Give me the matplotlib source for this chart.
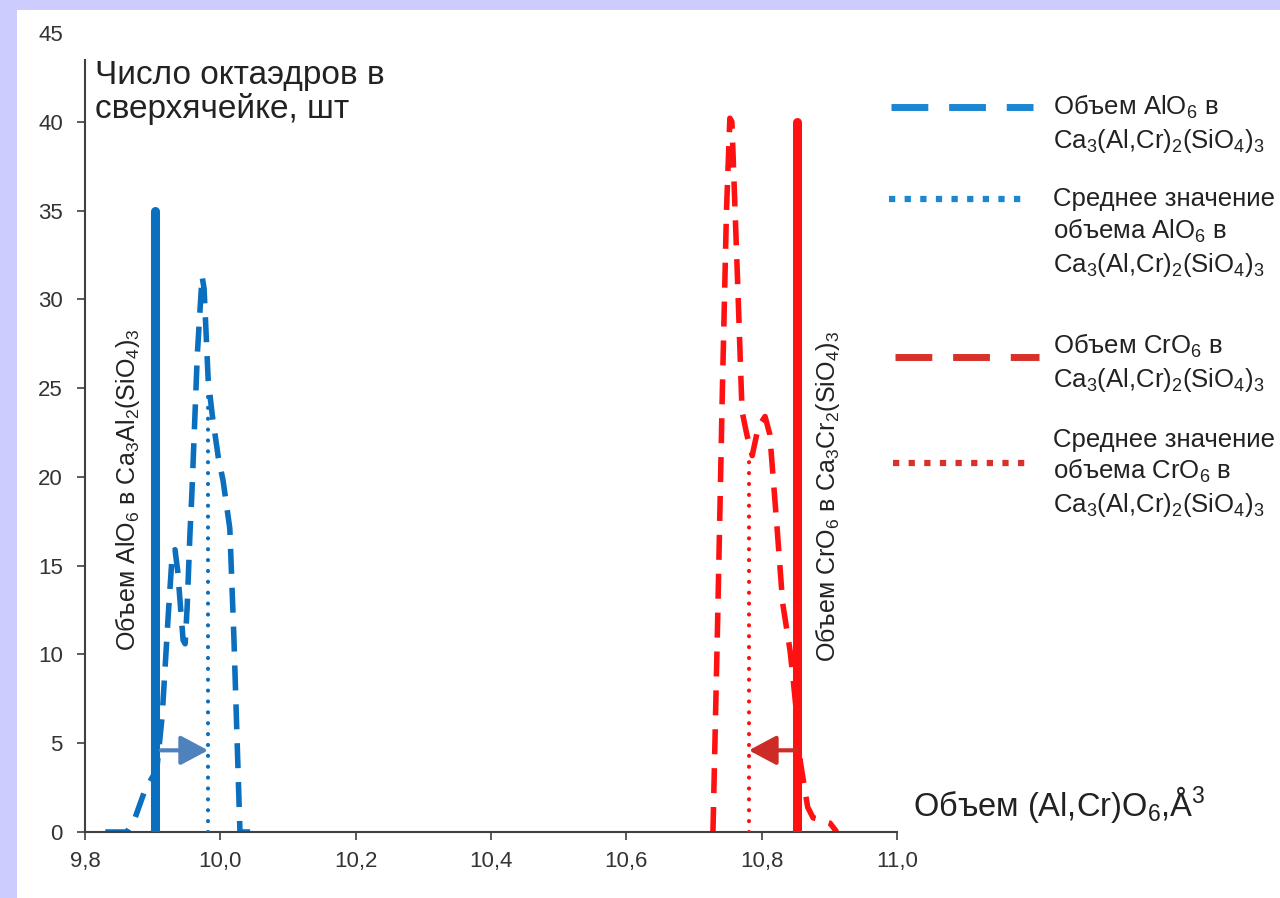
import matplotlib
matplotlib.use("Agg")
import matplotlib.pyplot as plt
from matplotlib.lines import Line2D
from matplotlib.patches import Rectangle

plt.rcParams['font.family'] = ['Liberation Sans', 'DejaVu Sans']
plt.rcParams['mathtext.fontset'] = 'custom'
plt.rcParams['mathtext.rm'] = 'Liberation Sans'
plt.rcParams['mathtext.it'] = 'Liberation Sans:italic'
plt.rcParams['mathtext.default'] = 'rm'

# AlO6 octahedra volume distribution (dashed blue)
al_x = [9.830, 9.862, 9.874, 9.889, 9.906, 9.914, 9.923, 9.929, 9.933, 9.937,
        9.945, 9.948, 9.951, 9.955, 9.958, 9.966, 9.973, 9.976, 9.982, 9.988,
        9.997, 10.004, 10.014, 10.020, 10.025, 10.029, 10.044]
al_y = [0, 0, 0.8, 2.4, 3.5, 6.5, 12.2, 15.7, 15.9, 14.7,
        10.8, 10.6, 12.7, 16.7, 19.1, 26.9, 31.3, 30.6, 25.5, 23.5,
        21.1, 19.8, 17.1, 11.0, 4.9, 0, 0]

# CrO6 octahedra volume distribution (dashed red)
cr_x = [10.728, 10.735, 10.742, 10.748, 10.753, 10.756, 10.765, 10.771, 10.778,
        10.786, 10.795, 10.805, 10.812, 10.823, 10.831, 10.842, 10.846, 10.852,
        10.857, 10.862, 10.868, 10.876, 10.886, 10.901, 10.911]
cr_y = [0, 12, 25, 35, 40.2, 40.0, 30.4, 23.7, 22.4,
        21.2, 22.8, 23.4, 22.4, 17.0, 12.9, 10.2, 8.8, 6.5,
        4.0, 2.8, 1.4, 0.8, 0.7, 0.5, 0]

# reference volumes in the pure end members (solid lines)
al_pure_x, al_pure_h = 9.904, 35
cr_pure_x, cr_pure_h = 10.852, 40
# mean values in the solid solution (dotted lines)
al_mean_x, al_mean_h = 9.982, 25
cr_mean_x, cr_mean_h = 10.781, 21.3
arrow_y = 4.6

x_ticks = [9.8, 10.0, 10.2, 10.4, 10.6, 10.8, 11.0]
x_labels = ['9,8', '10,0', '10,2', '10,4', '10,6', '10,8', '11,0']
y_ticks = [0, 5, 10, 15, 20, 25, 30, 35, 40, 45]

W, H = 1280, 898
blue = '#0b6fbf'
blue_l = '#1b86d2'
red = '#ff1111'
red_l = '#d8312c'


def fx(px):
    return px / W


def fy(py):
    return 1 - py / H


fig = plt.figure(figsize=(12.8, 8.98), dpi=100, facecolor='#ccccff')
fig.patches.append(Rectangle((fx(17), 0), 1 - fx(17), fy(10), transform=fig.transFigure,
                             facecolor='white', edgecolor='none', zorder=-10))

ax = fig.add_axes([fx(85), fy(832), fx(897) - fx(85), fy(33) - fy(832)])
ax.set_facecolor('none')
ax.set_xlim(9.8, 11.0)
ax.set_ylim(0, 45)

ax.plot(al_x, al_y, color=blue, lw=4, linestyle=(0, (4.5, 2.5)), zorder=2)
ax.plot(cr_x, cr_y, color=red, lw=4, linestyle=(0, (4.5, 2.5)), zorder=2)

ax.plot([al_mean_x, al_mean_x], [0, al_mean_h], color=blue, lw=3,
        linestyle=(0, (0.01, 2.6)), dash_capstyle='round', zorder=3)
ax.plot([cr_mean_x, cr_mean_x], [0, cr_mean_h], color=red, lw=3,
        linestyle=(0, (0.01, 2.6)), dash_capstyle='round', zorder=3)

ax.plot([al_pure_x, al_pure_x], [0, al_pure_h], color=blue, lw=6.5,
        solid_capstyle='round', zorder=4)
ax.plot([cr_pure_x, cr_pure_x], [0, cr_pure_h], color=red, lw=6.5,
        solid_capstyle='round', zorder=4)

head = '-|>,head_length=0.6,head_width=0.32'
ax.annotate('', xy=(al_mean_x, arrow_y), xytext=(al_pure_x + 0.008, arrow_y),
            arrowprops=dict(arrowstyle=head, color='#4f81bd', lw=3, mutation_scale=28,
                            shrinkA=0, shrinkB=0), zorder=5)
ax.annotate('', xy=(cr_mean_x, arrow_y), xytext=(cr_pure_x, arrow_y),
            arrowprops=dict(arrowstyle=head, color='#cc2b27', lw=3, mutation_scale=28,
                            shrinkA=0, shrinkB=0), zorder=5)

ax.text(9.8635, 19.3, r'Объем AlO$_6$ в Ca$_3$Al$_2$(SiO$_4$)$_3$', rotation=90,
        ha='center', va='center', fontsize=18, color='#222222')
ax.text(10.898, 18.9, r'Объем CrO$_6$ в Ca$_3$Cr$_2$(SiO$_4$)$_3$', rotation=90,
        ha='center', va='center', fontsize=18, color='#222222')

for side in ['top', 'right']:
    ax.spines[side].set_visible(False)
for side in ['left', 'bottom']:
    ax.spines[side].set_color('#404040')
    ax.spines[side].set_linewidth(1.5)
ax.spines['left'].set_bounds(0, 43.5)

ax.set_xticks(x_ticks)
ax.set_xticklabels(x_labels)
ax.set_yticks(y_ticks)
ax.tick_params(axis='both', direction='out', length=6, width=1.2, color='#404040',
               labelsize=16, labelcolor='#333333')
ax.tick_params(axis='y', pad=10)
ax.tick_params(axis='x', pad=8)
ax.yaxis.get_major_ticks()[-1].tick1line.set_visible(False)

# axis titles
fig.text(fx(95), fy(84), 'Число октаэдров в', fontsize=24, color='#222222', va='baseline')
fig.text(fx(95), fy(118), 'сверхячейке, шт', fontsize=24, color='#222222', va='baseline')
fig.text(fx(913), fy(816), r'Объем (Al,Cr)O$_6$,Å$^3$', fontsize=23.5, color='#222222',
         va='baseline')

# legend
formula = r'Ca$_3$(Al,Cr)$_2$(SiO$_4$)$_3$'
legend = [
    ((891, 1033), 107, blue_l, 'dash', [('Объем AlO$_6$ в', 115), (formula, 148)]),
    ((889, 1027), 199, blue_l, 'dot', [('Среднее значение', 206), ('объема AlO$_6$ в', 239),
                                       (formula, 272)]),
    ((895, 1039), 357, red_l, 'dash', [('Объем CrO$_6$ в', 354), (formula, 387)]),
    ((893, 1033), 463, red_l, 'dot', [('Среднее значение', 447), ('объема CrO$_6$ в', 479),
                                      (formula, 512)]),
]
for (x0, x1), ly, col, kind, lines in legend:
    if kind == 'dash':
        ln = Line2D([fx(x0), fx(x1)], [fy(ly), fy(ly)], transform=fig.transFigure,
                    color=col, lw=5, linestyle=(0, (5.3, 3.0)), solid_capstyle='butt')
    else:
        ln = Line2D([fx(x0), fx(x1)], [fy(ly), fy(ly)], transform=fig.transFigure,
                    color=col, lw=4.5, linestyle=(0, (1, 1.5)), dash_capstyle='butt')
    fig.add_artist(ln)
    for txt, ty in lines:
        fig.text(fx(1053), fy(ty), txt, fontsize=18.5, color='#222222', va='baseline')

fig.savefig('out.png', dpi=100, facecolor=fig.get_facecolor())
